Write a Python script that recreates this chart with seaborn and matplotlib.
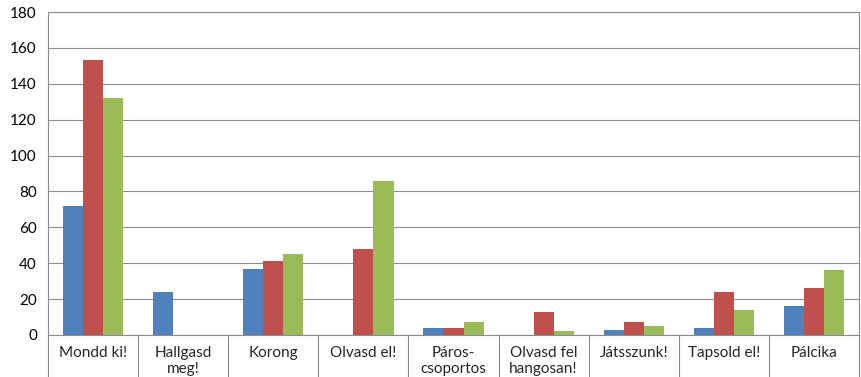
import numpy as np
import pandas as pd
import matplotlib
matplotlib.use('Agg')
import matplotlib.pyplot as plt
import matplotlib.transforms as mtransforms
import seaborn as sns

## ============================================================

categories = ['Mondd ki!', 'Hallgasd\nmeg!', 'Korong', 'Olvasd el!', 'Páros-\ncsoportos',
              'Olvasd fel\nhangosan!', 'Játsszunk!', 'Tapsold el!', 'Pálcika']
series_names = ['A', 'B', 'C']
values_a = [72, 24, 37, 0, 4, 0, 3, 4, 16]
values_b = [153, 0, 41, 48, 4, 13, 7, 24, 26]
values_c = [132, 0, 45, 86, 7, 2, 5, 14, 36]
colors = ['#4F81BD', '#C0504D', '#9BBB59']

## ============================================================

df = pd.DataFrame({'category': categories * 3,
                   'series': np.repeat(series_names, len(categories)),
                   'value': values_a + values_b + values_c})

sns.set_style('white')
plt.rcParams['font.family'] = ['Lato', 'DejaVu Sans']

fig = plt.figure(figsize=(8.61, 3.77), dpi=100)
ax = fig.add_axes([48/861, 1 - 335/377, (859-48)/861, (335-12)/377])

sns.barplot(data=df, x='category', y='value', hue='series', order=categories,
            hue_order=series_names, palette=colors, width=0.67, gap=0,
            saturation=1, linewidth=0, legend=False, ax=ax)

ax.set_ylim(0, 180)
ax.set_yticks(range(0, 181, 20))
ax.set_xlim(-0.5, len(categories) - 0.5)
ax.yaxis.grid(True, color='#8C8C8C', linewidth=0.8)
ax.set_axisbelow(True)
ax.set_xlabel('')
ax.set_ylabel('')
ax.tick_params(axis='y', labelsize=11, length=0, pad=8, colors='#000000')
ax.tick_params(axis='x', labelsize=11, length=0, pad=8)
for s in ax.spines.values():
	s.set_color('#8C8C8C')
	s.set_linewidth(0.8)

## category dividers below the axis
trans = mtransforms.blended_transform_factory(ax.transData, ax.transAxes)
for i in range(len(categories) + 1):
	ax.plot([i - 0.5, i - 0.5], [0, -0.14], color='#8C8C8C', linewidth=0.8,
			transform=trans, clip_on=False)

fig.savefig('out.png', dpi=100)
